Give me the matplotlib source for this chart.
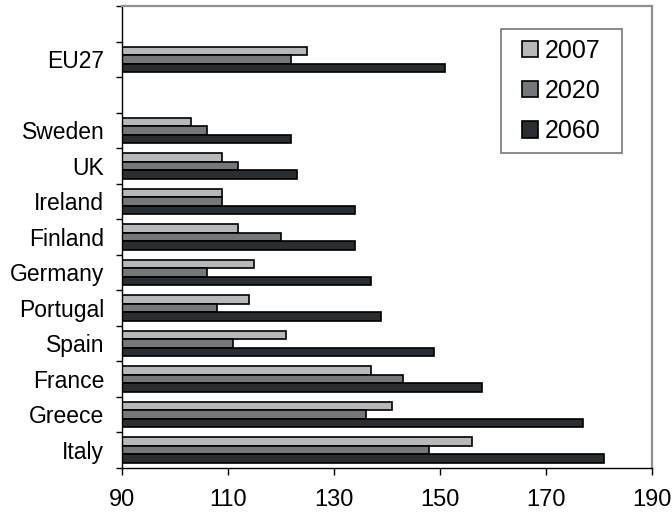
import matplotlib
matplotlib.use("Agg")
import matplotlib.pyplot as plt
import numpy as np
from matplotlib.patches import Patch, Rectangle

plt.rcParams["font.family"] = ["Liberation Sans", "DejaVu Sans"]

# categories from bottom to top ("" = empty slot)
categories = ["Italy", "Greece", "France", "Spain", "Portugal", "Germany",
              "Finland", "Ireland", "UK", "Sweden", "", "EU27", ""]
years = ["2007", "2020", "2060"]

vals_2007 = [156, 141, 137, 121, 114, 115, 112, 109, 109, 103, None, 125, None]
vals_2020 = [148, 136, 143, 111, 108, 106, 120, 109, 112, 106, None, 122, None]
vals_2060 = [181, 177, 158, 149, 139, 137, 134, 134, 123, 122, None, 151, None]

colors = ["#b7b8b9", "#75787a", "#2b2e31"]
x_ticks = [90, 110, 130, 150, 170, 190]

fig = plt.figure(figsize=(6.72, 5.12), dpi=100)
ax = fig.add_axes([0.1811, 0.0865, 0.9698 - 0.1811, 0.988 - 0.0865])

pos = np.arange(len(categories))
bar_h = 0.24
offsets = [bar_h, 0, -bar_h]
for series, col, off, yr in zip([vals_2007, vals_2020, vals_2060], colors, offsets, years):
    idx = [i for i, v in enumerate(series) if v is not None]
    widths = [series[i] - 90 for i in idx]
    ax.barh(pos[idx] + off, widths, left=90, height=bar_h, color=col,
            edgecolor="black", linewidth=1.2, label=yr)

ax.set_xlim(90, 190)
ax.set_ylim(-0.5, len(categories) - 0.5)
ax.set_xticks(x_ticks)
ax.set_xticklabels([str(t) for t in x_ticks], fontsize=17)
ax.tick_params(axis="x", direction="out", length=5, width=1, pad=10)

ax.set_yticks(pos)
ax.set_yticklabels(categories, fontsize=16.5)
ax.tick_params(axis="y", which="major", length=0, pad=12.5)
ax.set_yticks(np.arange(len(categories) + 1) - 0.5, minor=True)
ax.tick_params(axis="y", which="minor", direction="out", length=4.5, width=1)

for side in ["left", "bottom"]:
    ax.spines[side].set_color("black")
    ax.spines[side].set_linewidth(1)
for side in ["top", "right"]:
    ax.spines[side].set_color("#8f8f8f")
    ax.spines[side].set_linewidth(1.6)

# legend with a plain square frame
lx0, lx1 = 0.716, 0.944
ly0, ly1 = 0.682, 0.950
ax.add_patch(Rectangle((lx0, ly0), lx1 - lx0, ly1 - ly0, transform=ax.transAxes,
                       fill=False, edgecolor="#777777", linewidth=1.2, zorder=5))
handles = [Patch(facecolor=c, edgecolor="black", linewidth=1.2) for c in colors]
ax.legend(handles, years, loc="center", bbox_to_anchor=((lx0 + lx1) / 2, (ly0 + ly1) / 2),
          frameon=False, fontsize=18, handlelength=0.62, handleheight=0.62,
          handletextpad=0.3, labelspacing=0.65)

fig.savefig("out.png", dpi=100)
